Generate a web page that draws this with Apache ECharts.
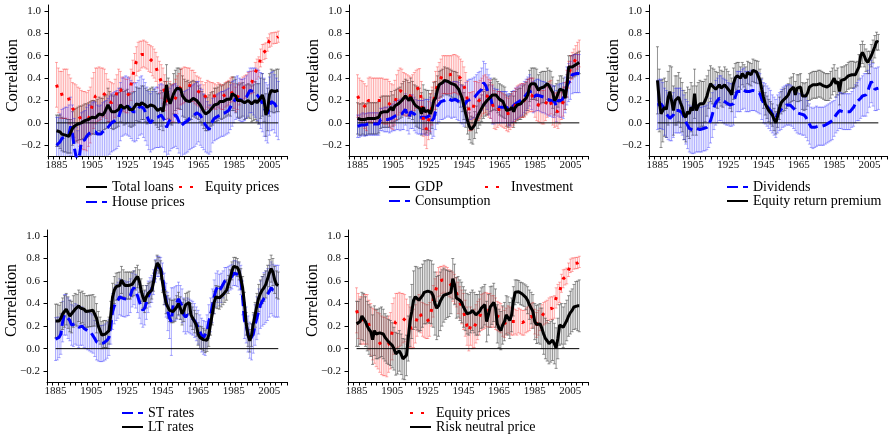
<!DOCTYPE html>
<html>
<head>
<meta charset="utf-8">
<script src="https://cdn.jsdelivr.net/npm/echarts@6/dist/echarts.min.js"></script>
<style>
  html, body { margin: 0; padding: 0; background: #fff; }
  #chart { width: 893px; height: 438px; }
</style>
</head>
<body>
<div id="chart"></div>
<script>
// Rolling cross-country correlations, annual windows 1885-2010.
const FIRST_YEAR = 1885;

// ---- Panel 1 ----
const totalLoans = [
  -0.07,-0.07,-0.08,-0.10,-0.11,-0.11,-0.12,-0.12,-0.12,-0.05,
  -0.03,-0.02,-0.01,0.00,0.00,0.01,0.02,0.02,0.03,0.04,
  0.05,0.05,0.045,0.06,0.08,0.07,0.07,0.09,0.10,0.16,
  0.13,0.10,0.09,0.10,0.11,0.12,0.16,0.15,0.13,0.14,
  0.15,0.12,0.11,0.12,0.13,0.17,0.16,0.16,0.18,0.18,
  0.16,0.14,0.15,0.16,0.17,0.15,0.13,0.11,0.10,0.13,
  0.10,0.20,0.34,0.22,0.17,0.16,0.26,0.29,0.31,0.31,
  0.30,0.24,0.22,0.20,0.21,0.19,0.20,0.22,0.21,0.20,
  0.18,0.16,0.13,0.10,0.08,0.08,0.10,0.12,0.13,0.16,
  0.16,0.17,0.19,0.18,0.19,0.20,0.21,0.22,0.21,0.26,
  0.26,0.24,0.20,0.19,0.20,0.21,0.18,0.19,0.20,0.19,
  0.17,0.18,0.20,0.18,0.17,0.22,0.25,0.20,0.07,0.12,
  0.25,0.29,0.28,0.28,0.29,0.29
];
const totalLoansErr = [
  0.14,0.14,0.15,0.15,0.15,0.15,0.15,0.15,0.15,0.15,
  0.15,0.15,0.15,0.15,0.15,0.15,0.15,0.15,0.15,0.15,
  0.15,0.15,0.15,0.15,0.15,0.15,0.15,0.15,0.15,0.15,
  0.15,0.15,0.15,0.15,0.15,0.15,0.15,0.15,0.15,0.15,
  0.15,0.15,0.15,0.15,0.15,0.15,0.15,0.15,0.15,0.15,
  0.15,0.15,0.15,0.15,0.15,0.15,0.15,0.15,0.16,0.16,
  0.17,0.17,0.18,0.18,0.18,0.18,0.18,0.18,0.18,0.18,
  0.18,0.18,0.17,0.17,0.17,0.17,0.17,0.16,0.16,0.16,
  0.15,0.15,0.15,0.15,0.15,0.15,0.15,0.15,0.15,0.15,
  0.15,0.15,0.15,0.15,0.15,0.15,0.15,0.15,0.15,0.15,
  0.15,0.15,0.15,0.15,0.15,0.15,0.15,0.15,0.15,0.15,
  0.16,0.16,0.17,0.17,0.18,0.18,0.19,0.19,0.19,0.19,
  0.19,0.19,0.19,0.19,0.19,0.19
];
const equityPrices = [
  0.34,0.29,0.25,0.25,0.26,0.26,0.26,0.21,0.17,0.13,
  0.11,0.09,0.07,0.05,0.03,0.02,0.02,0.01,0.04,0.07,
  0.15,0.20,0.24,0.25,0.26,0.26,0.27,0.27,0.24,0.20,
  0.19,0.18,0.18,0.22,0.27,0.32,0.30,0.26,0.25,0.24,
  0.24,0.26,0.34,0.42,0.49,0.55,0.59,0.60,0.61,0.62,
  0.61,0.60,0.58,0.57,0.55,0.53,0.50,0.45,0.41,0.37,
  0.33,0.27,0.20,0.15,0.20,0.17,0.18,0.22,0.25,0.28,
  0.32,0.33,0.34,0.345,0.34,0.34,0.33,0.33,0.31,0.29,
  0.28,0.27,0.24,0.22,0.24,0.26,0.25,0.24,0.24,0.24,
  0.23,0.25,0.24,0.23,0.23,0.25,0.26,0.27,0.29,0.30,
  0.24,0.21,0.23,0.26,0.29,0.31,0.32,0.33,0.35,0.36,
  0.36,0.37,0.45,0.48,0.50,0.58,0.62,0.635,0.645,0.70,
  0.735,0.745,0.755,0.76,0.76,0.77
];
const equityPricesErr = [
  0.20,0.20,0.21,0.21,0.22,0.22,0.22,0.22,0.23,0.23,
  0.24,0.25,0.25,0.26,0.26,0.26,0.26,0.26,0.25,0.25,
  0.25,0.25,0.25,0.24,0.24,0.23,0.22,0.21,0.20,0.19,
  0.18,0.18,0.17,0.17,0.16,0.16,0.16,0.15,0.15,0.15,
  0.15,0.15,0.14,0.14,0.13,0.13,0.13,0.13,0.12,0.12,
  0.12,0.12,0.12,0.12,0.13,0.13,0.13,0.14,0.14,0.15,
  0.16,0.16,0.17,0.17,0.17,0.17,0.17,0.17,0.17,0.16,
  0.16,0.16,0.16,0.15,0.15,0.15,0.14,0.14,0.14,0.13,
  0.13,0.13,0.13,0.12,0.12,0.12,0.12,0.12,0.12,0.11,
  0.11,0.11,0.11,0.11,0.11,0.11,0.11,0.11,0.11,0.11,
  0.11,0.11,0.11,0.10,0.10,0.10,0.10,0.10,0.10,0.10,
  0.10,0.10,0.09,0.09,0.09,0.08,0.08,0.07,0.07,0.06,
  0.06,0.06,0.05,0.05,0.05,0.05
];
const housePrices = [
  -0.20,-0.20,-0.17,-0.14,-0.13,-0.12,-0.12,-0.10,-0.03,-0.10,
  -0.22,-0.30,-0.33,-0.28,-0.17,-0.16,-0.15,-0.12,-0.10,-0.10,
  -0.08,-0.07,-0.08,-0.10,-0.11,-0.10,-0.08,-0.07,-0.06,-0.04,
  -0.02,0.00,0.01,0.02,0.03,0.05,0.10,0.14,0.15,0.16,
  0.15,0.14,0.12,0.10,0.09,0.10,0.12,0.15,0.16,0.13,
  0.10,0.06,0.02,0.00,0.02,0.04,0.05,0.05,0.06,0.07,
  0.06,0.02,-0.04,0.00,0.03,0.05,0.06,0.07,0.05,0.01,
  -0.03,-0.03,0.00,0.01,0.02,0.04,0.05,0.06,0.07,0.09,
  0.10,0.07,0.04,0.01,-0.02,-0.04,-0.06,-0.05,0.02,0.04,
  0.05,0.06,0.07,0.08,0.08,0.09,0.10,0.11,0.14,0.17,
  0.19,0.22,0.23,0.21,0.20,0.20,0.21,0.23,0.26,0.29,
  0.29,0.28,0.27,0.25,0.23,0.20,0.18,0.14,0.10,0.08,
  0.15,0.19,0.20,0.17,0.14,0.11
];
const housePricesErr = [
  0.25,0.25,0.25,0.26,0.26,0.26,0.26,0.26,0.26,0.26,
  0.26,0.26,0.26,0.26,0.26,0.26,0.26,0.26,0.26,0.26,
  0.26,0.26,0.26,0.26,0.26,0.26,0.26,0.26,0.26,0.26,
  0.26,0.26,0.26,0.26,0.26,0.26,0.26,0.26,0.26,0.26,
  0.26,0.26,0.26,0.26,0.26,0.26,0.26,0.26,0.26,0.26,
  0.26,0.26,0.26,0.26,0.26,0.27,0.27,0.27,0.28,0.28,
  0.28,0.28,0.28,0.28,0.28,0.28,0.28,0.28,0.28,0.28,
  0.28,0.28,0.28,0.28,0.28,0.28,0.28,0.28,0.28,0.28,
  0.27,0.27,0.26,0.25,0.24,0.23,0.22,0.21,0.20,0.20,
  0.20,0.20,0.20,0.20,0.20,0.20,0.20,0.20,0.20,0.20,
  0.19,0.19,0.19,0.19,0.19,0.19,0.19,0.19,0.20,0.20,
  0.20,0.21,0.22,0.23,0.24,0.25,0.26,0.26,0.26,0.26,
  0.26,0.26,0.26,0.26,0.26,0.26
];

// ---- Panel 2 ----
const gdp = [
  0.04,0.03,0.03,0.04,0.03,0.03,0.04,0.04,0.04,0.04,
  0.04,0.04,0.05,0.09,0.10,0.10,0.10,0.10,0.10,0.14,
  0.11,0.15,0.16,0.17,0.18,0.20,0.22,0.24,0.22,0.20,
  0.23,0.20,0.17,0.15,0.14,0.13,0.08,0.14,0.10,0.10,
  0.11,0.08,0.12,0.20,0.22,0.29,0.34,0.35,0.36,0.38,
  0.37,0.37,0.36,0.35,0.34,0.34,0.33,0.30,0.26,0.22,
  0.15,0.08,0.02,-0.03,-0.06,-0.07,-0.02,0.03,0.07,0.10,
  0.13,0.16,0.18,0.20,0.21,0.23,0.25,0.26,0.25,0.23,
  0.21,0.20,0.19,0.18,0.11,0.10,0.12,0.14,0.10,0.14,
  0.16,0.17,0.17,0.19,0.20,0.22,0.25,0.33,0.35,0.35,
  0.35,0.34,0.29,0.31,0.32,0.32,0.32,0.35,0.33,0.32,
  0.27,0.20,0.22,0.26,0.30,0.31,0.29,0.22,0.33,0.50,
  0.50,0.50,0.51,0.52,0.53,0.54
];
const gdpErr = [
  0.14,0.14,0.14,0.14,0.14,0.14,0.14,0.14,0.14,0.14,
  0.14,0.14,0.14,0.14,0.14,0.14,0.14,0.14,0.14,0.14,
  0.14,0.14,0.14,0.14,0.14,0.15,0.15,0.15,0.16,0.16,
  0.17,0.17,0.17,0.18,0.18,0.18,0.19,0.20,0.20,0.19,
  0.18,0.18,0.17,0.16,0.15,0.13,0.12,0.12,0.12,0.12,
  0.12,0.12,0.12,0.12,0.12,0.12,0.12,0.12,0.12,0.12,
  0.12,0.12,0.12,0.12,0.12,0.12,0.12,0.12,0.12,0.12,
  0.12,0.12,0.12,0.13,0.13,0.13,0.14,0.14,0.14,0.14,
  0.14,0.14,0.14,0.14,0.14,0.14,0.14,0.14,0.14,0.14,
  0.14,0.14,0.14,0.14,0.14,0.14,0.14,0.14,0.14,0.14,
  0.14,0.14,0.14,0.14,0.14,0.14,0.14,0.14,0.14,0.14,
  0.14,0.13,0.13,0.12,0.12,0.11,0.11,0.10,0.10,0.10,
  0.10,0.10,0.10,0.10,0.10,0.10
];
const consumption = [
  -0.03,-0.03,-0.02,-0.01,-0.02,-0.015,-0.01,-0.01,-0.01,-0.01,
  -0.01,-0.01,-0.01,0.03,0.03,0.03,0.03,0.03,0.03,0.04,
  0.05,0.06,0.07,0.07,0.07,0.08,0.08,0.12,0.08,0.05,
  0.10,0.10,0.08,0.06,0.05,0.05,0.05,0.05,0.05,0.05,
  0.05,0.07,0.02,0.04,0.10,0.15,0.17,0.19,0.19,0.20,
  0.21,0.22,0.21,0.20,0.21,0.21,0.20,0.19,0.17,0.16,
  0.15,0.18,0.20,0.21,0.21,0.22,0.23,0.25,0.27,0.28,
  0.30,0.36,0.34,0.30,0.25,0.22,0.16,0.15,0.15,0.15,
  0.14,0.14,0.14,0.14,0.14,0.12,0.11,0.14,0.15,0.17,
  0.18,0.19,0.20,0.21,0.23,0.25,0.27,0.29,0.26,0.23,
  0.24,0.25,0.25,0.24,0.23,0.23,0.22,0.21,0.20,0.20,
  0.19,0.19,0.15,0.20,0.20,0.20,0.20,0.25,0.33,0.36,
  0.38,0.43,0.44,0.44,0.44,0.44
];
const consumptionErr = [
  0.10,0.10,0.10,0.10,0.10,0.10,0.10,0.10,0.10,0.10,
  0.10,0.10,0.10,0.10,0.10,0.11,0.11,0.11,0.12,0.12,
  0.12,0.13,0.13,0.13,0.14,0.14,0.14,0.14,0.15,0.15,
  0.15,0.15,0.15,0.15,0.15,0.15,0.15,0.15,0.16,0.16,
  0.16,0.16,0.16,0.16,0.16,0.16,0.16,0.16,0.16,0.16,
  0.16,0.16,0.16,0.16,0.16,0.16,0.17,0.17,0.17,0.17,
  0.18,0.18,0.18,0.18,0.18,0.18,0.18,0.18,0.18,0.18,
  0.19,0.19,0.19,0.18,0.18,0.18,0.17,0.16,0.15,0.15,
  0.14,0.14,0.14,0.14,0.14,0.14,0.14,0.14,0.14,0.14,
  0.14,0.14,0.14,0.14,0.14,0.14,0.14,0.14,0.14,0.14,
  0.14,0.14,0.14,0.14,0.14,0.14,0.14,0.14,0.14,0.14,
  0.14,0.14,0.14,0.14,0.15,0.15,0.16,0.16,0.17,0.17,
  0.17,0.17,0.17,0.17,0.17,0.17
];
const investment = [
  0.24,0.21,0.18,0.17,0.15,0.13,0.20,0.21,0.20,0.20,
  0.20,0.20,0.20,0.20,0.20,0.19,0.19,0.19,0.17,0.15,
  0.14,0.18,0.23,0.27,0.29,0.28,0.26,0.25,0.25,0.24,
  0.24,0.26,0.28,0.30,0.31,0.315,0.20,0.05,-0.03,-0.06,
  0.02,0.09,0.15,0.20,0.29,0.33,0.37,0.40,0.43,0.43,
  0.43,0.43,0.43,0.43,0.44,0.44,0.43,0.42,0.40,0.38,
  0.33,0.28,0.20,0.10,0.10,0.11,0.20,0.20,0.19,0.21,
  0.23,0.25,0.26,0.24,0.22,0.21,0.17,0.12,0.10,0.12,
  0.13,0.12,0.11,0.10,0.08,0.07,0.09,0.11,0.13,0.16,
  0.18,0.19,0.20,0.20,0.20,0.22,0.24,0.25,0.25,0.25,
  0.20,0.17,0.16,0.15,0.14,0.14,0.17,0.20,0.22,0.23,
  0.13,0.11,0.12,0.10,0.13,0.16,0.19,0.24,0.35,0.43,
  0.48,0.51,0.54,0.57,0.60,0.62
];
const investmentErr = [
  0.19,0.19,0.20,0.20,0.20,0.20,0.20,0.20,0.20,0.20,
  0.20,0.20,0.20,0.20,0.20,0.20,0.20,0.20,0.20,0.20,
  0.20,0.20,0.20,0.20,0.20,0.20,0.19,0.19,0.18,0.18,
  0.17,0.17,0.17,0.17,0.17,0.17,0.17,0.17,0.17,0.17,
  0.17,0.17,0.17,0.17,0.17,0.17,0.17,0.17,0.17,0.17,
  0.17,0.17,0.17,0.17,0.17,0.17,0.17,0.17,0.17,0.17,
  0.17,0.17,0.17,0.17,0.17,0.17,0.17,0.17,0.17,0.17,
  0.17,0.17,0.17,0.17,0.17,0.17,0.17,0.17,0.16,0.16,
  0.15,0.15,0.15,0.15,0.15,0.15,0.15,0.15,0.15,0.15,
  0.15,0.15,0.15,0.15,0.15,0.15,0.15,0.15,0.15,0.15,
  0.15,0.15,0.15,0.15,0.15,0.15,0.15,0.15,0.15,0.15,
  0.15,0.15,0.15,0.15,0.14,0.13,0.13,0.12,0.12,0.12,
  0.12,0.12,0.12,0.12,0.12,0.12
];

// ---- Panel 3 ----
const dividends = [
  0.16,0.17,0.17,0.15,0.10,0.08,0.06,0.04,0.04,0.07,
  0.11,0.11,0.11,0.11,0.09,0.05,0.01,-0.02,-0.05,-0.06,
  -0.065,-0.06,-0.05,-0.05,-0.06,-0.06,-0.05,-0.05,-0.04,-0.02,
  0.02,0.07,0.14,0.18,0.20,0.22,0.22,0.20,0.19,0.18,
  0.17,0.16,0.16,0.17,0.23,0.28,0.28,0.28,0.30,0.31,
  0.28,0.28,0.28,0.29,0.29,0.29,0.28,0.27,0.26,0.21,
  0.18,0.17,0.15,0.13,0.11,0.08,0.06,0.04,0.08,0.10,
  0.12,0.14,0.15,0.16,0.16,0.16,0.15,0.13,0.11,0.09,
  0.08,0.08,0.07,0.07,0.05,0.02,-0.01,-0.04,-0.05,-0.04,
  -0.03,-0.03,-0.03,-0.03,-0.03,-0.02,-0.01,0.00,0.01,0.02,
  0.04,0.07,0.09,0.11,0.11,0.10,0.10,0.10,0.10,0.10,
  0.12,0.14,0.17,0.19,0.20,0.22,0.24,0.25,0.25,0.28,
  0.33,0.37,0.34,0.30,0.30,0.31
];
const dividendsErr = [
  0.22,0.22,0.22,0.21,0.21,0.21,0.21,0.20,0.20,0.20,
  0.20,0.20,0.20,0.20,0.20,0.20,0.20,0.21,0.21,0.21,
  0.21,0.21,0.21,0.21,0.20,0.20,0.20,0.20,0.20,0.20,
  0.20,0.20,0.20,0.20,0.20,0.20,0.20,0.20,0.20,0.20,
  0.19,0.19,0.19,0.19,0.18,0.18,0.18,0.18,0.18,0.18,
  0.18,0.18,0.18,0.18,0.18,0.18,0.18,0.18,0.18,0.18,
  0.18,0.18,0.18,0.18,0.18,0.17,0.17,0.17,0.17,0.17,
  0.18,0.18,0.18,0.18,0.18,0.18,0.18,0.18,0.18,0.18,
  0.18,0.18,0.18,0.18,0.18,0.18,0.18,0.18,0.18,0.18,
  0.18,0.17,0.17,0.17,0.17,0.17,0.17,0.17,0.17,0.17,
  0.16,0.16,0.16,0.16,0.16,0.16,0.16,0.16,0.16,0.16,
  0.16,0.17,0.17,0.17,0.18,0.18,0.18,0.19,0.19,0.19,
  0.19,0.19,0.19,0.19,0.19,0.19
];
const equityPremium = [
  0.38,0.20,0.08,0.11,0.14,0.12,0.22,0.28,0.28,0.11,
  0.20,0.20,0.23,0.18,0.14,0.07,0.05,0.10,0.08,0.14,
  0.11,0.26,0.11,0.15,0.17,0.17,0.17,0.20,0.24,0.30,
  0.35,0.33,0.32,0.30,0.29,0.34,0.31,0.30,0.34,0.32,
  0.31,0.28,0.25,0.35,0.40,0.42,0.43,0.40,0.44,0.42,
  0.40,0.45,0.44,0.43,0.47,0.46,0.455,0.45,0.38,0.30,
  0.23,0.17,0.14,0.11,0.09,0.07,0.03,0.00,0.06,0.13,
  0.18,0.20,0.21,0.23,0.25,0.29,0.30,0.32,0.25,0.31,
  0.31,0.32,0.24,0.23,0.24,0.27,0.32,0.33,0.34,0.34,
  0.34,0.35,0.35,0.34,0.33,0.32,0.32,0.32,0.34,0.37,
  0.40,0.35,0.37,0.28,0.38,0.38,0.39,0.40,0.42,0.43,
  0.43,0.43,0.43,0.44,0.50,0.60,0.63,0.60,0.56,0.54,
  0.54,0.60,0.64,0.68,0.73,0.72
];
const equityPremiumErr = [
  0.30,0.28,0.30,0.28,0.26,0.25,0.24,0.23,0.22,0.22,
  0.22,0.22,0.22,0.22,0.22,0.22,0.22,0.22,0.22,0.22,
  0.22,0.22,0.22,0.21,0.21,0.20,0.20,0.19,0.18,0.17,
  0.16,0.16,0.16,0.16,0.16,0.16,0.16,0.16,0.16,0.16,
  0.15,0.15,0.15,0.14,0.13,0.12,0.11,0.10,0.10,0.10,
  0.10,0.10,0.10,0.10,0.10,0.10,0.10,0.10,0.10,0.10,
  0.10,0.10,0.10,0.10,0.10,0.10,0.10,0.10,0.10,0.10,
  0.10,0.10,0.10,0.10,0.10,0.11,0.11,0.12,0.12,0.12,
  0.12,0.12,0.12,0.12,0.12,0.12,0.12,0.12,0.12,0.12,
  0.12,0.12,0.12,0.12,0.12,0.12,0.12,0.12,0.12,0.12,
  0.12,0.12,0.12,0.12,0.12,0.12,0.12,0.12,0.12,0.12,
  0.12,0.12,0.11,0.11,0.11,0.10,0.10,0.10,0.10,0.10,
  0.10,0.10,0.10,0.10,0.08,0.07
];

// ---- Panel 4 ----
const stRates = [
  0.085,0.09,0.10,0.13,0.24,0.30,0.30,0.27,0.25,0.21,
  0.20,0.22,0.21,0.19,0.20,0.20,0.18,0.17,0.16,0.15,
  0.14,0.13,0.09,0.06,0.05,0.045,0.045,0.05,0.06,0.075,
  0.10,0.20,0.33,0.38,0.41,0.43,0.46,0.45,0.445,0.44,
  0.44,0.445,0.47,0.52,0.54,0.51,0.47,0.42,0.37,0.34,
  0.36,0.41,0.46,0.50,0.53,0.59,0.69,0.73,0.73,0.71,
  0.64,0.53,0.43,0.33,0.27,0.24,0.39,0.40,0.41,0.44,
  0.41,0.38,0.30,0.28,0.30,0.29,0.28,0.27,0.25,0.22,
  0.19,0.15,0.12,0.10,0.09,0.15,0.24,0.30,0.38,0.46,
  0.52,0.55,0.52,0.54,0.57,0.60,0.61,0.62,0.63,0.64,
  0.67,0.67,0.66,0.64,0.61,0.45,0.25,0.21,0.13,0.075,
  0.06,0.13,0.21,0.27,0.33,0.39,0.42,0.445,0.46,0.48,
  0.51,0.54,0.52,0.51,0.51,0.51
];
const stRatesErr = [
  0.19,0.19,0.18,0.18,0.18,0.18,0.18,0.18,0.18,0.18,
  0.18,0.18,0.18,0.18,0.17,0.17,0.17,0.17,0.17,0.17,
  0.17,0.17,0.16,0.16,0.16,0.16,0.16,0.16,0.16,0.16,
  0.16,0.16,0.16,0.16,0.16,0.16,0.16,0.16,0.16,0.16,
  0.15,0.15,0.15,0.15,0.15,0.15,0.15,0.15,0.15,0.15,
  0.15,0.15,0.14,0.13,0.12,0.11,0.10,0.09,0.09,0.10,
  0.12,0.14,0.15,0.17,0.18,0.30,0.15,0.15,0.15,0.15,
  0.15,0.15,0.15,0.15,0.15,0.15,0.15,0.15,0.15,0.15,
  0.15,0.15,0.15,0.15,0.15,0.15,0.15,0.15,0.15,0.15,
  0.15,0.14,0.14,0.13,0.12,0.12,0.11,0.11,0.11,0.11,
  0.11,0.11,0.11,0.12,0.13,0.15,0.16,0.16,0.16,0.16,
  0.16,0.17,0.18,0.19,0.20,0.21,0.22,0.23,0.23,0.23,
  0.23,0.23,0.23,0.23,0.23,0.23
];
const ltRates = [
  0.245,0.245,0.245,0.27,0.31,0.33,0.35,0.32,0.29,0.28,
  0.33,0.35,0.34,0.38,0.36,0.37,0.35,0.33,0.33,0.335,
  0.335,0.34,0.33,0.27,0.20,0.16,0.12,0.13,0.13,0.125,
  0.16,0.30,0.46,0.52,0.55,0.555,0.56,0.61,0.58,0.56,
  0.56,0.56,0.56,0.57,0.58,0.62,0.64,0.60,0.52,0.46,
  0.42,0.46,0.49,0.50,0.52,0.59,0.70,0.76,0.74,0.70,
  0.59,0.49,0.41,0.37,0.34,0.33,0.33,0.34,0.37,0.40,
  0.36,0.31,0.34,0.39,0.40,0.41,0.30,0.27,0.24,0.21,
  0.13,0.10,0.095,0.08,0.065,0.075,0.12,0.22,0.31,0.41,
  0.46,0.455,0.45,0.46,0.48,0.50,0.52,0.57,0.62,0.69,
  0.73,0.74,0.72,0.69,0.62,0.54,0.40,0.22,0.12,0.07,
  0.12,0.22,0.30,0.38,0.45,0.49,0.52,0.54,0.57,0.62,
  0.67,0.71,0.68,0.61,0.57,0.56
];
const ltRatesErr = [
  0.15,0.15,0.14,0.14,0.14,0.14,0.14,0.14,0.14,0.14,
  0.14,0.14,0.14,0.14,0.14,0.14,0.14,0.14,0.14,0.14,
  0.14,0.14,0.13,0.13,0.13,0.12,0.12,0.12,0.12,0.12,
  0.12,0.12,0.12,0.12,0.12,0.12,0.12,0.12,0.12,0.12,
  0.12,0.12,0.12,0.11,0.11,0.10,0.10,0.10,0.10,0.10,
  0.10,0.10,0.09,0.09,0.08,0.08,0.08,0.07,0.07,0.08,
  0.09,0.10,0.10,0.10,0.10,0.10,0.10,0.10,0.10,0.10,
  0.10,0.10,0.10,0.10,0.10,0.10,0.10,0.10,0.10,0.10,
  0.10,0.10,0.10,0.10,0.10,0.10,0.10,0.10,0.10,0.10,
  0.10,0.10,0.10,0.09,0.09,0.09,0.09,0.08,0.08,0.08,
  0.08,0.07,0.08,0.08,0.09,0.10,0.10,0.10,0.10,0.10,
  0.10,0.10,0.11,0.11,0.12,0.12,0.12,0.12,0.12,0.12,
  0.12,0.12,0.12,0.12,0.12,0.12
];

// ---- Panel 5 (equity prices shared with panel 1) ----
const riskNeutral = [
  0.22,0.22,0.24,0.29,0.28,0.24,0.20,0.17,0.15,0.08,
  0.16,0.13,0.13,0.14,0.15,0.13,0.10,0.08,0.06,0.05,
  0.03,0.00,-0.045,-0.045,-0.02,-0.05,-0.09,-0.095,-0.06,0.09,
  0.24,0.33,0.43,0.46,0.445,0.43,0.44,0.47,0.50,0.50,
  0.51,0.505,0.50,0.47,0.40,0.36,0.38,0.42,0.45,0.475,
  0.48,0.485,0.485,0.50,0.62,0.57,0.45,0.46,0.43,0.41,
  0.37,0.34,0.31,0.30,0.32,0.34,0.32,0.30,0.30,0.33,
  0.36,0.37,0.39,0.24,0.30,0.37,0.385,0.41,0.36,0.22,
  0.18,0.16,0.21,0.24,0.30,0.29,0.25,0.30,0.42,0.50,
  0.51,0.505,0.49,0.485,0.475,0.455,0.43,0.39,0.36,0.33,
  0.24,0.215,0.22,0.22,0.18,0.13,0.09,0.07,0.045,0.06,
  0.075,0.045,0.005,0.09,0.21,0.22,0.19,0.22,0.25,0.29,
  0.32,0.34,0.37,0.385,0.38,0.38
];
const riskNeutralErr = [
  0.20,0.20,0.20,0.21,0.21,0.22,0.22,0.22,0.22,0.22,
  0.22,0.22,0.22,0.22,0.22,0.22,0.21,0.21,0.20,0.20,
  0.20,0.19,0.19,0.18,0.18,0.18,0.18,0.18,0.18,0.20,
  0.22,0.24,0.26,0.27,0.28,0.28,0.28,0.28,0.28,0.28,
  0.28,0.28,0.28,0.28,0.28,0.28,0.27,0.26,0.25,0.24,
  0.22,0.21,0.20,0.19,0.18,0.18,0.18,0.18,0.18,0.18,
  0.18,0.18,0.18,0.18,0.18,0.18,0.18,0.18,0.18,0.18,
  0.18,0.18,0.18,0.18,0.18,0.18,0.17,0.17,0.17,0.17,
  0.17,0.17,0.17,0.17,0.17,0.17,0.16,0.15,0.13,0.11,
  0.10,0.10,0.10,0.10,0.10,0.11,0.12,0.13,0.14,0.15,
  0.16,0.17,0.17,0.18,0.18,0.18,0.18,0.18,0.18,0.18,
  0.18,0.18,0.18,0.18,0.18,0.18,0.18,0.18,0.18,0.18,
  0.19,0.19,0.20,0.21,0.22,0.23
];

const years = totalLoans.map((_, i) => FIRST_YEAR + i);
const xLabelYears = [1885, 1905, 1925, 1945, 1965, 1985, 2005];
const yTickValues = [-0.2, 0, 0.2, 0.4, 0.6, 0.8, 1.0];

// Axis extents
const X_MIN = 1880.2, X_MAX = 2014.9;
const Y_MIN = -0.296, Y_MAX = 1.053;
const xTickValues = [];
for (let k = 0; k <= 42; k++) xTickValues.push(X_MIN + k * (X_MAX - X_MIN) / 42);

const SERIF = "'Liberation Serif', 'DejaVu Serif', serif";

const styles = {
  black: { line: { color: '#000', width: 3, type: 'solid' }, bar: 'rgba(60,60,60,0.55)' },
  blue:  { line: { color: '#0000ff', width: 3, type: [11, 5] }, bar: 'rgba(0,0,255,0.33)' },
  red:   { line: { color: '#ff0000', width: 3, type: [3, 8] }, bar: 'rgba(255,0,0,0.32)' }
};

const panels = [
  { box: { left: 48, top: 5, width: 239, height: 151 },
    items: [
      { name: 'Total loans', v: totalLoans, e: totalLoansErr, kind: 'black' },
      { name: 'Equity prices', v: equityPrices, e: equityPricesErr, kind: 'red' },
      { name: 'House prices', v: housePrices, e: housePricesErr, kind: 'blue' }
    ],
    lineOrder: [2, 1, 0] },
  { box: { left: 349, top: 5, width: 239, height: 151 },
    items: [
      { name: 'GDP', v: gdp, e: gdpErr, kind: 'black' },
      { name: 'Consumption', v: consumption, e: consumptionErr, kind: 'blue' },
      { name: 'Investment', v: investment, e: investmentErr, kind: 'red' }
    ],
    lineOrder: [1, 2, 0] },
  { box: { left: 649, top: 5, width: 238, height: 151 },
    items: [
      { name: 'Equity return premium', v: equityPremium, e: equityPremiumErr, kind: 'black' },
      { name: 'Dividends', v: dividends, e: dividendsErr, kind: 'blue' }
    ],
    lineOrder: [1, 0] },
  { box: { left: 47, top: 230, width: 240, height: 152 },
    items: [
      { name: 'ST rates', v: stRates, e: stRatesErr, kind: 'blue' },
      { name: 'LT rates', v: ltRates, e: ltRatesErr, kind: 'black' }
    ],
    lineOrder: [0, 1] },
  { box: { left: 348, top: 230, width: 240, height: 152 },
    items: [
      { name: 'Equity prices', v: equityPrices, e: equityPricesErr, kind: 'red' },
      { name: 'Risk neutral price', v: riskNeutral, e: riskNeutralErr, kind: 'black' }
    ],
    lineOrder: [0, 1] }
];

// Legend entries: [name, left, center y]
const legendEntries = [
  ['Total loans', 85, 187], ['Equity prices', 178, 187], ['House prices', 85, 202],
  ['GDP', 388, 187], ['Investment', 484, 187], ['Consumption', 388, 201],
  ['Dividends', 726, 187], ['Equity return premium', 726, 201],
  ['ST rates', 121, 413], ['LT rates', 121, 427],
  ['Equity prices', 409, 413], ['Risk neutral price', 409, 427]
];

function makeBarRenderer(color) {
  return function (params, api) {
    const x = api.value(0), lo = api.value(1), hi = api.value(2);
    const top = api.coord([x, hi]);
    const bot = api.coord([x, lo]);
    const cs = params.coordSys;
    const yMinPx = cs.y, yMaxPx = cs.y + cs.height;
    const y1 = Math.max(top[1], yMinPx), y2 = Math.min(bot[1], yMaxPx);
    const px = top[0];
    const children = [{
      type: 'line', shape: { x1: px, y1: y1, x2: px, y2: y2 },
      style: { stroke: color, lineWidth: 1 }
    }];
    if (top[1] >= yMinPx) children.push({ type: 'line', shape: { x1: px - 1.5, y1: top[1], x2: px + 1.5, y2: top[1] }, style: { stroke: color, lineWidth: 1 } });
    if (bot[1] <= yMaxPx) children.push({ type: 'line', shape: { x1: px - 1.5, y1: bot[1], x2: px + 1.5, y2: bot[1] }, style: { stroke: color, lineWidth: 1 } });
    return { type: 'group', children: children };
  };
}

const grids = [], xAxes = [], yAxes = [], series = [], graphics = [];
const axisLineStyle = { color: '#000', width: 1 };

panels.forEach((p, gi) => {
  grids.push(Object.assign({ containLabel: false }, p.box));
  xAxes.push({
    type: 'value', gridIndex: gi, min: X_MIN, max: X_MAX,
    splitLine: { show: false },
    axisLine: { show: true, onZero: false, lineStyle: axisLineStyle },
    axisTick: { show: true, customValues: xTickValues, length: 3.5, lineStyle: axisLineStyle },
    axisLabel: { customValues: xLabelYears, formatter: v => String(Math.round(v)),
      fontFamily: SERIF, fontSize: 11, color: '#111', margin: 4 }
  });
  yAxes.push({
    type: 'value', gridIndex: gi, min: Y_MIN, max: Y_MAX,
    splitLine: { show: false },
    axisLine: { show: true, onZero: false, lineStyle: axisLineStyle },
    axisTick: { show: true, customValues: yTickValues, length: 3.5, lineStyle: axisLineStyle },
    axisLabel: { customValues: yTickValues,
      formatter: v => (v < -1e-9 ? '\u2212' : '') + Math.abs(v).toFixed(1),
      fontFamily: SERIF, fontSize: 11, color: '#111', margin: 7 }
  });

  // error bars
  p.items.forEach(it => {
    const st = styles[it.kind];
    series.push({
      type: 'custom', name: it.name + ' band', xAxisIndex: gi, yAxisIndex: gi,
      clip: true, z: 1, silent: true,
      renderItem: makeBarRenderer(st.bar),
      data: years.map((y, i) => [y, it.v[i] - it.e[i], it.v[i] + it.e[i]])
    });
  });

  // zero reference line over the sample span
  series.push({
    type: 'line', name: 'zero' + gi, xAxisIndex: gi, yAxisIndex: gi,
    data: [[years[0], 0], [years[years.length - 1], 0]],
    symbol: 'none', silent: true, z: 2,
    lineStyle: { color: '#000', width: 1 }
  });

  // point estimates
  p.lineOrder.forEach((idx, k) => {
    const it = p.items[idx];
    const st = styles[it.kind];
    series.push({
      type: 'line', name: it.name, xAxisIndex: gi, yAxisIndex: gi,
      data: years.map((y, i) => [y, it.v[i]]),
      symbol: 'none', showSymbol: false, z: 3 + k,
      itemStyle: { color: st.line.color },
      lineStyle: { color: st.line.color, width: st.line.width, type: st.line.type, cap: 'butt' }
    });
  });

  graphics.push({
    type: 'text', x: p.box.left - 35, y: p.box.top + 70.5, rotation: Math.PI / 2,
    style: { text: 'Correlation', font: '16px ' + SERIF, fill: '#000',
      align: 'center', verticalAlign: 'middle' }
  });
});

const legends = legendEntries.map(([name, left, cy]) => ({
  data: [name], left: left, top: cy - 7, padding: 0, itemGap: 0,
  itemWidth: 21, itemHeight: 14, selectedMode: false,
  itemStyle: { opacity: 0 },
  textStyle: { fontFamily: SERIF, fontSize: 14, color: '#000' }
}));

const chart = echarts.init(document.getElementById('chart'), null, { renderer: 'canvas' });
chart.setOption({
  animation: false,
  backgroundColor: '#fff',
  grid: grids, xAxis: xAxes, yAxis: yAxes,
  legend: legends,
  graphic: graphics,
  series: series
});
</script>
</body>
</html>
